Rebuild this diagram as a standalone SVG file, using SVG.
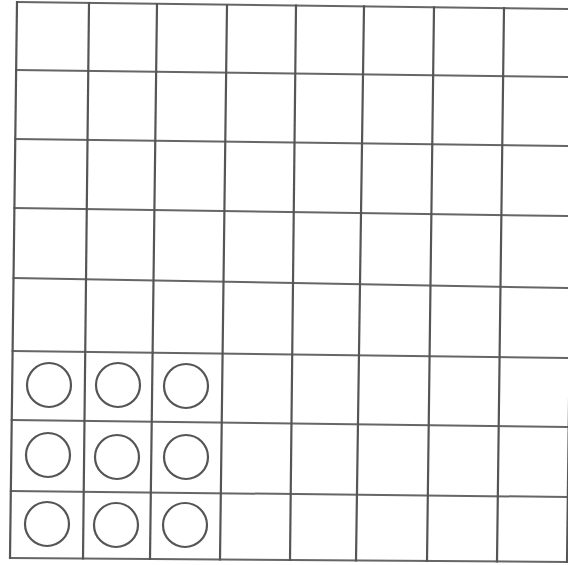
<svg xmlns="http://www.w3.org/2000/svg" width="568" height="565" viewBox="0 0 568 565">
  <style>
    .v { stroke: #555; stroke-width: 2.2; fill: none; stroke-linecap: square; }
    .h { stroke: #666; stroke-width: 2; fill: none; stroke-linecap: square; }
    .c { stroke: #555; stroke-width: 2.2; fill: none; }
  </style>
  <rect width="568" height="565" fill="#fff"/>
  <g id="grid-horizontal">
    <line class="h" x1="17" y1="2" x2="568" y2="9"/>
    <line class="h" x1="16" y1="70" x2="568" y2="77"/>
    <line class="h" x1="15.2" y1="139" x2="568" y2="146"/>
    <line class="h" x1="14.4" y1="208" x2="568" y2="216"/>
    <line class="h" x1="13.5" y1="278" x2="568" y2="288"/>
    <line class="h" x1="12.6" y1="351" x2="568" y2="358"/>
    <line class="h" x1="11.7" y1="420" x2="568" y2="427"/>
    <line class="h" x1="10.8" y1="491" x2="568" y2="497"/>
    <line class="h" x1="10" y1="558" x2="568" y2="562"/>
  </g>
  <g id="grid-vertical">
    <line class="v" x1="17" y1="2" x2="10" y2="558"/>
    <line class="v" x1="89" y1="3" x2="83" y2="558.5"/>
    <line class="v" x1="157" y1="4" x2="150" y2="559"/>
    <line class="v" x1="227" y1="5" x2="220" y2="559.5"/>
    <line class="v" x1="296" y1="5.6" x2="290" y2="560"/>
    <line class="v" x1="364" y1="6.4" x2="356" y2="560.5"/>
    <line class="v" x1="434" y1="7.3" x2="427" y2="561"/>
    <line class="v" x1="504" y1="8.2" x2="497" y2="561.5"/>
    <line class="v" x1="574" y1="9" x2="567" y2="562"/>
  </g>
  <g id="circles">
    <g id="c-r1-c1"><circle class="c" cx="49" cy="385" r="22"/></g>
    <g id="c-r1-c2"><circle class="c" cx="118" cy="385" r="22"/></g>
    <g id="c-r1-c3"><circle class="c" cx="186" cy="386" r="22"/></g>
    <g id="c-r2-c1"><circle class="c" cx="48" cy="455" r="22"/></g>
    <g id="c-r2-c2"><circle class="c" cx="117" cy="457" r="22"/></g>
    <g id="c-r2-c3"><circle class="c" cx="186" cy="457" r="22"/></g>
    <g id="c-r3-c1"><circle class="c" cx="47" cy="524" r="22"/></g>
    <g id="c-r3-c2"><circle class="c" cx="116" cy="525" r="22"/></g>
    <g id="c-r3-c3"><circle class="c" cx="185" cy="525" r="22"/></g>
  </g>
</svg>
